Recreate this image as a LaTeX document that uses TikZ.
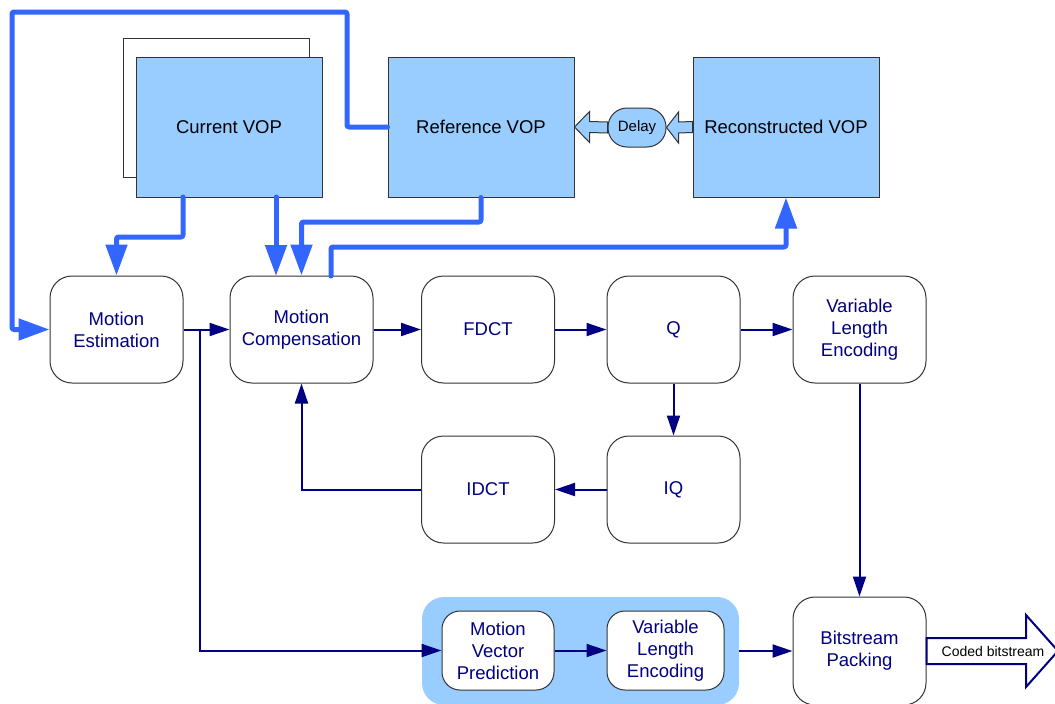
\documentclass[tikz,border=0pt]{standalone}
\usepackage{fontspec}
\setmainfont{Liberation Sans}
\usetikzlibrary{arrows.meta,calc}
\definecolor{lblue}{HTML}{99CCFF}
\definecolor{tblue}{HTML}{3366FF}
\definecolor{navy}{HTML}{000080}
\definecolor{bord}{HTML}{333333}
\tikzset{
  vop/.style={draw=bord, line width=1pt, fill=lblue, minimum width=186pt, minimum height=140pt, inner sep=0pt, font=\fontsize{18.5}{22}\selectfont},
  proc/.style={draw=bord, line width=1pt, fill=white, rounded corners=22pt, minimum width=133pt, minimum height=107pt, inner sep=0pt, align=center, text=navy, font=\fontsize{18.5}{22}\selectfont},
  sproc/.style={proc, rounded corners=18pt, minimum height=79pt},
  thick blue/.style={draw=tblue, line width=5pt, line cap=round, line join=round, rounded corners=2pt},
  blue arrow/.style={thick blue, -{Triangle[length=31pt,width=21pt]}},
  navy arrow/.style={draw=navy, line width=2pt, -{Triangle[length=20pt,width=13pt]}},
  hollow/.style={draw=bord, line width=1pt, fill=lblue, line join=miter},
}
\begin{document}
\begin{tikzpicture}[x=1pt,y=-1pt]
\useasboundingbox (0,0) rectangle (1055,704);
% back page of Current VOP
\draw[draw=bord, line width=1pt, fill=white] (123,38) rectangle (309,177);
\node[vop] (cur) at (229,127) {Current VOP};
\node[vop] (ref) at (481,127) {Reference VOP};
\node[vop] (rec) at (786,127) {Reconstructed VOP};
\node[draw=bord, line width=1pt, fill=lblue, rounded corners=19pt, minimum width=58pt, minimum height=39pt, inner sep=0pt, font=\fontsize{15}{18}\selectfont] (delay) at (637,127.5) {Delay};
% hollow arrows
\draw[hollow] (ref.east) -- ($(ref.east)+(15,-15.5)$) -- ($(ref.east)+(15,-5.5)$) -- ($(delay.west)+(0,-5.5)$)
  -- ($(delay.west)+(0,5.5)$) -- ($(ref.east)+(15,5.5)$) -- ($(ref.east)+(15,15.5)$) -- cycle;
\draw[hollow] (delay.east) -- ($(delay.east)+(12,-15.5)$) -- ($(delay.east)+(12,-5.5)$) -- ($(rec.west)+(0,-5.5)$)
  -- ($(rec.west)+(0,5.5)$) -- ($(delay.east)+(12,5.5)$) -- ($(delay.east)+(12,15.5)$) -- cycle;

% process boxes
\node[proc] (me) at (116.5,329.5) {Motion\\Estimation};
\node[proc, minimum width=143pt] (mc) at (301.5,329.5) {Motion\\Compensation};
\node[proc] (fdct) at (488,329.5) {FDCT};
\node[proc] (q) at (673.5,329.5) {Q};
\node[proc] (vle) at (859.5,329.5) {Variable\\Length\\Encoding};
\node[proc] (idct) at (488,489.5) {IDCT};
\node[proc] (iq) at (673.5,489.5) {IQ};
\node[proc, minimum height=108pt] (bp) at (859.5,651) {Bitstream\\Packing};
\node[fill=lblue, rounded corners=22pt, minimum width=317pt, minimum height=108pt, inner sep=0pt] (grp) at (580.5,651) {};
\node[sproc, minimum width=112pt] (mvp) at (498,650.5) {Motion\\Vector\\Prediction};
\node[sproc, minimum width=117pt] (vle2) at (665.5,650.5) {Variable\\Length\\Encoding};

% thick blue connectors
\coordinate (l1) at (347,127);
\coordinate (l2) at (347,12);
\coordinate (l3) at (12,12);
\coordinate (l4) at (12,329.5);
\draw[blue arrow] (ref.west) -- (l1) -- (l2) -- (l3) -- (l4) -- (me.west);
\coordinate (c1) at (183,197);
\coordinate (c2) at (183,237);
\draw[blue arrow] (c1) -- (c2) -| (me.north);
\coordinate (c3) at (276,197);
\coordinate (c4) at (276,276);
\draw[blue arrow] (c3) -- (c4);
\coordinate (r1) at (481,222);
\draw[blue arrow] (ref.south) -- (r1) -| (mc.north);
\coordinate (m1) at (331,276);
\coordinate (m2) at (331,247);
\draw[blue arrow] (m1) -- (m2) -| (rec.south);

% navy connectors
\draw[navy arrow] (me.east) -- (mc.west);
\coordinate (b1) at (200,329.5);
\draw[navy arrow] (b1) |- (mvp.west);
\draw[navy arrow] (mc.east) -- (fdct.west);
\draw[navy arrow] (fdct.east) -- (q.west);
\draw[navy arrow] (q.east) -- (vle.west);
\draw[navy arrow] (q.south) -- (iq.north);
\draw[navy arrow] (iq.west) -- (idct.east);
\draw[navy arrow] (idct.west) -| (mc.south);
\draw[navy arrow] (vle.south) -- (bp.north);
\draw[navy arrow] (mvp.east) -- (vle2.west);
\draw[navy arrow] (grp.east) -- (bp.west);

% output arrow
\coordinate (tip) at (1058,651);
\draw[draw=navy, line width=2pt, fill=white, line join=miter]
  ($(bp.east)+(0,-13)$) -- (1026,638) -- (1026,615) -- (tip) -- (1026,687) -- (1026,664) -- ($(bp.east)+(0,13)$) -- cycle;
\node[font=\fontsize{14}{16}\selectfont, inner sep=0pt] (cb) at (993,651) {Coded bitstream};
\end{tikzpicture}
\end{document}
